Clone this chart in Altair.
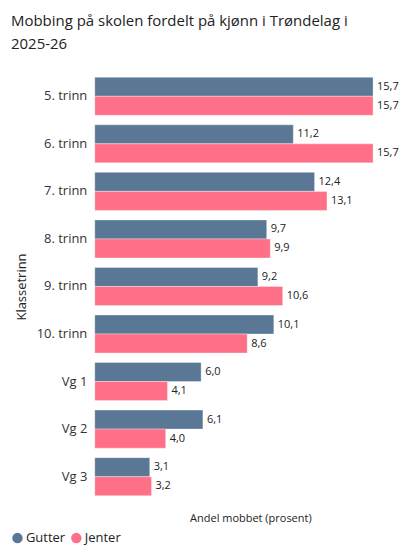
import altair as alt
import pandas as pd

klassetrinn = ["5. trinn", "6. trinn", "7. trinn", "8. trinn", "9. trinn",
               "10. trinn", "Vg 1", "Vg 2", "Vg 3"]
gutter = [15.7, 11.2, 12.4, 9.7, 9.2, 10.1, 6.0, 6.1, 3.1]
jenter = [15.7, 15.7, 13.1, 9.9, 10.6, 8.6, 4.1, 4.0, 3.2]
kjonn = ["Gutter", "Jenter"]
farger = ["#5a7896", "#ff6f87"]

rows = []
for i, k in enumerate(klassetrinn):
    rows.append({"trinn": k, "kjonn": "Gutter", "andel": gutter[i]})
    rows.append({"trinn": k, "kjonn": "Jenter", "andel": jenter[i]})
df = pd.DataFrame(rows)
df["etikett"] = df["andel"].map(lambda v: f"{v:.1f}".replace(".", ","))

font = "Open Sans"

y_enc = alt.Y("trinn:N", sort=klassetrinn,
              scale=alt.Scale(paddingInner=0.2, paddingOuter=0.1),
              axis=alt.Axis(title="Klassetrinn", ticks=False, domain=False,
                            labelPadding=8, labelFontSize=13, labelColor="#333",
                            titleFontSize=13, titleFontWeight="normal",
                            titleColor="#222", titlePadding=8, labelFont=font,
                            titleFont=font))
x_enc = alt.X("andel:Q", scale=alt.Scale(domain=[0, 15.7], nice=False),
              axis=alt.Axis(title="Andel mobbet (prosent)", labels=False,
                            ticks=False, domain=False, grid=False,
                            titleFontSize=11, titleFontWeight="normal",
                            titleColor="#222", titlePadding=12, titleFont=font,
                            titleX=156, titleAnchor="middle"))
color_enc = alt.Color("kjonn:N", scale=alt.Scale(domain=kjonn, range=farger),
                      legend=alt.Legend(title=None, orient="none",
                                        direction="horizontal",
                                        legendX=-84, legendY=460,
                                        symbolType="circle", symbolSize=110,
                                        symbolStrokeWidth=0,
                                        labelFontSize=13, labelColor="#222",
                                        labelFont=font, columnPadding=4,
                                        labelOffset=2))

base = alt.Chart(df).encode(
    y=y_enc,
    yOffset=alt.YOffset("kjonn:N", sort=kjonn),
    x=x_enc,
)

bars = base.mark_bar(stroke="#ffffff", strokeOpacity=0.35, strokeWidth=1).encode(color=color_enc)
labels = base.mark_text(align="left", baseline="middle", dx=4, fontSize=11,
                        font=font, color="#222").encode(text="etikett:N")

chart = (bars + labels).properties(
    width=279, height=429,
    padding={"left": 3, "top": 5, "right": 5, "bottom": 5},
    title=alt.TitleParams(["Mobbing på skolen fordelt på kjønn i Trøndelag i", "2025-26"],
                          anchor="start", fontSize=15, fontWeight="normal",
                          font=font, color="#222", offset=21, lineHeight=23),
).configure_view(stroke=None)

chart.save("out.html", embed_options={"renderer": "svg", "actions": False})
